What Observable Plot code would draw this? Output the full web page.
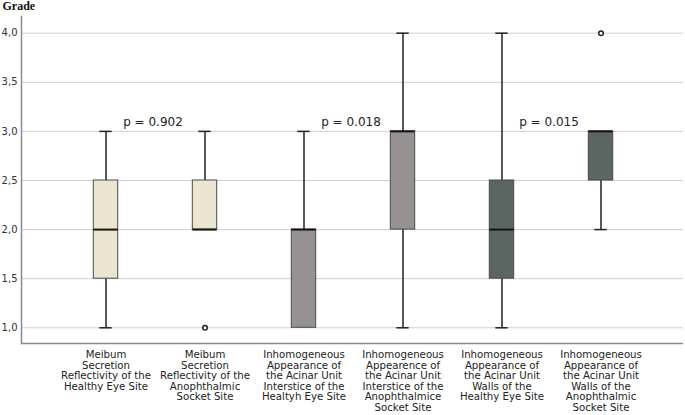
<!DOCTYPE html>
<html>
<head>
<meta charset="utf-8">
<script src="https://cdn.jsdelivr.net/npm/d3@7"></script>
<script src="https://cdn.jsdelivr.net/npm/@observablehq/plot@0.6"></script>
<style>
  html, body { margin: 0; padding: 0; background: #fff; }
  #chart svg { display: block; }
</style>
</head>
<body>
<div id="chart"></div>
<script>
// ---- Data ----
const categories = [
  "Meibum\nSecretion\nReflectivity of the\nHealthy Eye Site",
  "Meibum\nSecretion\nReflectivity of the\nAnophthalmic\nSocket Site",
  "Inhomogeneous\nAppearance of\nthe Acinar Unit\nInterstice of the\nHealtyh Eye Site",
  "Inhomogeneous\nAppearence of\nthe Acinar Unit\nInterstice of the\nAnophthalmice\nSocket Site",
  "Inhomogeneous\nAppearance of\nthe Acinar Unit\nWalls of the\nHealthy Eye Site",
  "Inhomogeneous\nAppearance of\nthe Acinar Unit\nWalls of the\nAnophthalmic\nSocket Site"
];
const groups = ["Meibum", "Meibum", "Interstice", "Interstice", "Walls", "Walls"];
const whiskerLow  = [1.0, 2.0, 1.0, 1.0, 1.0, 2.0];
const q1          = [1.5, 2.0, 1.0, 2.0, 1.5, 2.5];
const median      = [2.0, 2.0, 2.0, 3.0, 2.0, 3.0];
const q3          = [2.5, 2.5, 2.0, 3.0, 2.5, 3.0];
const whiskerHigh = [3.0, 3.0, 3.0, 4.0, 4.0, 3.0];
const outlierCategory = [1, 5];   // indices into categories
const outlierValue    = [1.0, 4.0];
const pLabels   = ["p = 0.902", "p = 0.018", "p = 0.015"];
const pLeftCat  = [0, 2, 4];      // left box of each compared pair
const pAtValue  = [3.0, 3.0, 3.0];
const yTicks      = [1.0, 1.5, 2.0, 2.5, 3.0, 3.5, 4.0];
const yTickLabels = ["1,0", "1,5", "2,0", "2,5", "3,0", "3,5", "4,0"];
const yTitle = "Grade";

// ---- Tables built from the arrays ----
const boxes = categories.map((c, i) => ({
  category: c, group: groups[i],
  low: whiskerLow[i], q1: q1[i], median: median[i], q3: q3[i], high: whiskerHigh[i]
}));
const outliers = outlierCategory.map((ci, i) => ({category: categories[ci], value: outlierValue[i]}));
const pTable = pLabels.map((t, i) => ({label: t, category: categories[pLeftCat[i]], value: pAtValue[i]}));

const yDomain = [0.84, 4.17];
const boxInset = 37.3;
const capInset = 43.3;

const chart = Plot.plot({
  width: 685,
  height: 415,
  marginTop: 16,
  marginBottom: 72,
  marginLeft: 21,
  marginRight: 2,
  style: {fontFamily: "'DejaVu Sans', sans-serif", color: "#222", background: "#fff"},
  x: {type: "band", domain: categories, range: [54, 652], padding: 0, axis: null},
  y: {domain: yDomain, axis: null},
  color: {domain: ["Meibum", "Interstice", "Walls"], range: ["#ebe4d0", "#979291", "#5b6561"]},
  marks: [
    Plot.gridY(yTicks, {stroke: "#cfcfcf", strokeOpacity: 1, strokeWidth: 1}),
    Plot.ruleX(boxes.filter(d => d.high > d.q3), {x: "category", y1: "q3", y2: "high", stroke: "#222", strokeWidth: 1.5}),
    Plot.ruleX(boxes.filter(d => d.low < d.q1), {x: "category", y1: "low", y2: "q1", stroke: "#222", strokeWidth: 1.5}),
    Plot.tickY(boxes.filter(d => d.high > d.q3), {x: "category", y: "high", stroke: "#222", strokeWidth: 1.5, insetLeft: capInset, insetRight: capInset}),
    Plot.tickY(boxes.filter(d => d.low < d.q1), {x: "category", y: "low", stroke: "#222", strokeWidth: 1.5, insetLeft: capInset, insetRight: capInset}),
    Plot.barY(boxes, {x: "category", y1: "q1", y2: "q3", fill: "group", stroke: "#4a4a46", strokeWidth: 1, insetLeft: boxInset, insetRight: boxInset}),
    Plot.tickY(boxes, {x: "category", y: "median", stroke: "#151515", strokeWidth: 2, insetLeft: boxInset, insetRight: boxInset}),
    Plot.dot(outliers, {x: "category", y: "value", r: 2.3, stroke: "#222", fill: "#fff", strokeWidth: 1.5}),
    Plot.text(pTable, {x: "category", y: "value", text: "label", dx: 47, dy: -9.5, fontSize: 12, fill: "#222", lineAnchor: "middle"}),
    Plot.text(yTicks, {y: d => d, text: (d, i) => yTickLabels[i], frameAnchor: "left", dx: -4, textAnchor: "end", fontSize: 10, fill: "#333"}),
    Plot.text(categories, {x: d => d, frameAnchor: "bottom", lineAnchor: "top", dy: 7, fontSize: 10.2, lineHeight: 1.04, fill: "#222"}),
    Plot.ruleY([yDomain[0]], {stroke: "#8a8a8a", strokeWidth: 1.5}),
    Plot.frame({anchor: "left", stroke: "#8a8a8a", strokeWidth: 1.5}),
    Plot.text([yTitle], {frameAnchor: "top-left", dx: -19, dy: -10, textAnchor: "start", lineAnchor: "middle", fontSize: 12, fontWeight: "bold", fontFamily: "'Liberation Serif', serif", fill: "#111"})
  ]
});
document.getElementById("chart").appendChild(chart);
</script>
</body>
</html>
